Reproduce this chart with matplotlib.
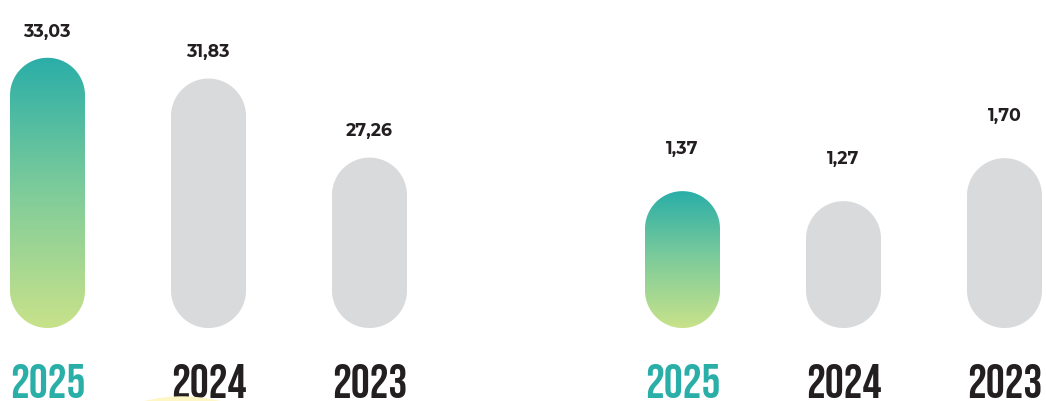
import matplotlib.pyplot as plt
import numpy as np
from matplotlib.patches import Polygon, Circle
from matplotlib.colors import LinearSegmentedColormap

years = ["2025", "2024", "2023"]
left_values = [33.03, 31.83, 27.26]
right_values = [1.37, 1.27, 1.70]

TEAL = "#2aaea8"
LIME = "#c8e28a"
GREY = "#d9dadb"
DARK = "#231f20"

grad = LinearSegmentedColormap.from_list("tl", [LIME, "#7fcc9a", TEAL])

fig = plt.figure(figsize=(10.46, 4.01), dpi=100)
W, H = 1046, 401

# faint yellow circle peeking in at the bottom edge
fig.patches.append(Circle((1.82, -1.51), 1.55, transform=fig.dpi_scale_trans,
                          color="#fff6c6", zorder=0))


def pill(ax, xc, top, w, highlight):
    bottom = ax.get_ylim()[0]
    bb = ax.get_window_extent()
    px_x = bb.width / np.diff(ax.get_xlim())[0]
    px_y = bb.height / np.diff(ax.get_ylim())[0]
    rx = w / 2
    ry = rx * px_x / px_y
    t = np.linspace(0, np.pi, 60)
    upper = np.column_stack([xc + rx * np.cos(t), top - ry + ry * np.sin(t)])
    lower = np.column_stack([xc - rx * np.cos(t), bottom + ry - ry * np.sin(t)])
    poly = Polygon(np.vstack([upper, lower]), closed=True,
                   facecolor=GREY if not highlight else "none",
                   edgecolor="none")
    ax.add_patch(poly)
    if highlight:
        img = ax.imshow(np.linspace(1, 0, 256).reshape(-1, 1), cmap=grad,
                        extent=(xc - rx, xc + rx, bottom, top),
                        aspect="auto", interpolation="bicubic")
        img.set_clip_path(poly)


def panel(rect, values, xlim, ylim, label_off):
    ax = fig.add_axes(rect)
    ax.set_xlim(*xlim)
    ax.set_ylim(*ylim)
    ax.axis("off")
    w = 75 / 161
    for i, v in enumerate(values):
        pill(ax, i, v, w, i == 0)
        ax.annotate(f"{v:.2f}".replace(".", ","), xy=(i, v),
                    xytext=(0, label_off), textcoords="offset pixels",
                    ha="center", va="center", fontsize=12.5, fontweight="bold",
                    color=DARK, family=["Montserrat Alternates", "DejaVu Sans"],
                    annotation_clip=False)
        ax.annotate(years[i], xy=(i, ylim[0]), xytext=(0, -53),
                    textcoords="offset pixels", ha="center", va="center",
                    fontsize=34, color=TEAL if i == 0 else DARK,
                    family=["Bebas Neue", "DejaVu Sans"],
                    annotation_clip=False)
        ax.set_xlim(*xlim)
        ax.set_ylim(*ylim)
    return ax


# left panel: baseline offset scale, 17.3 px per unit
panel([0, 73 / H, 420 / W, 328 / H], left_values,
      (-47.5 / 161, (420 - 47.5) / 161), (17.41, 17.41 + 328 / 17.3), 26)
# right panel: zero baseline, ~100 px per unit
panel([630 / W, 73 / H, 416 / W, 328 / H], right_values,
      (-52.5 / 161, (416 - 52.5) / 161), (0, 3.283), 42)

fig.savefig("out.png", dpi=100)
